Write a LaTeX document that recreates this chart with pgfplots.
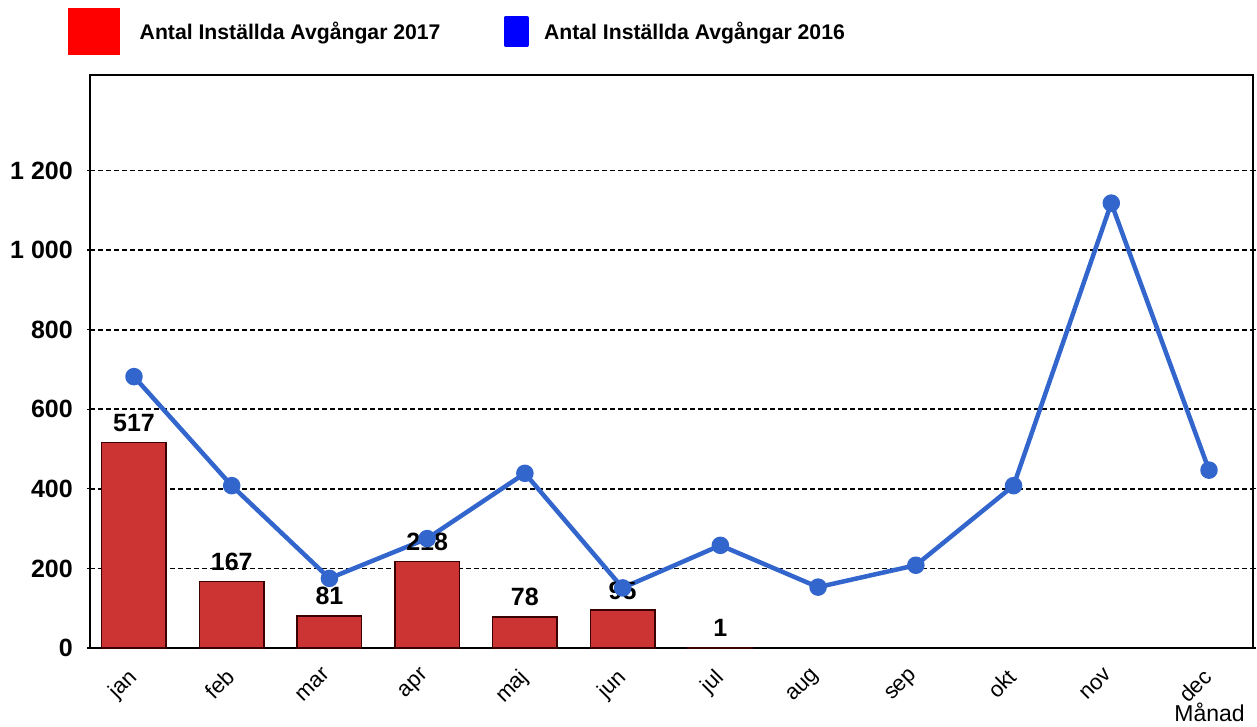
\documentclass[border=0pt]{standalone}
\usepackage{pgfplots}
\pgfplotsset{compat=1.18}
\usepackage{fontspec}
\setmainfont{Liberation Sans}
\definecolor{barred}{HTML}{CC3333}
\definecolor{barline}{HTML}{3A0000}
\definecolor{lineblue}{HTML}{3366CC}
\begin{document}
\begin{tikzpicture}
\begin{axis}[
  at={(90pt,78pt)}, anchor=south west,
  scale only axis, width=1163pt, height=573pt,
  xmin=-0.45, xmax=11.45, ymin=0, ymax=1440,
  /pgf/number format/assume math mode=true,
  xtick={0,...,11},
  xticklabels={jan,feb,mar,apr,maj,jun,jul,aug,sep,okt,nov,dec},
  x tick style={draw=none},
  xticklabel style={rotate=45, anchor=north east, font=\fontsize{22}{22}\selectfont, inner sep=0pt, yshift=-6.4pt, xshift=-16.4pt},
  ytick={0,200,...,1200},
  yticklabels={0,200,400,600,800,1 000,1 200},
  yticklabel style={font=\bfseries\fontsize{25}{25}\selectfont, inner sep=0pt, xshift=-14pt},
  tick align=outside, major tick length=3pt,
  y tick style={black, line width=1.3pt},
  ymajorgrids, major grid style={black, dash pattern=on 5pt off 3pt, line width=1.7pt},
  axis line style={black, line width=2.5pt},
  xlabel={Månad},
  xlabel style={at={(axis description cs:1,0)}, anchor=north east, yshift=-55pt, xshift=-8pt, font=\fontsize{23}{23}\selectfont, inner sep=0pt},
  legend style={at={(axis description cs:-0.0189,1.117)}, anchor=north west, draw=none, fill=none, inner sep=0pt,
    legend columns=2, font=\bfseries\fontsize{21.2}{21.2}\selectfont, nodes={inner sep=0pt},
    /tikz/every even column/.append style={column sep=63pt},
    /tikz/every odd column/.append style={column sep=15pt}},
  legend cell align=left,
]
\addplot[ybar, bar width=0.66, fill=barred, draw=barline, line width=1.5pt,
  nodes near coords,
  nodes near coords style={font=\bfseries\fontsize{25}{25}\selectfont, inner sep=0pt, anchor=south, yshift=10pt, black},
  legend image code/.code={\fill[red] (0pt,-22.5pt) rectangle (50pt,22.5pt); \path (55pt,0pt);}]
  coordinates {(0,517) (1,167) (2,81) (3,218) (4,78) (5,95) (6,1)};
\addlegendentry{Antal Inställda Avgångar 2017}
\addplot[lineblue, line width=4.5pt, line join=round, mark=*, mark size=6.5pt, mark options={fill=lineblue, draw=none},
  legend image code/.code={\fill[blue] (0pt,-13.5pt) rectangle (21pt,13.5pt);}]
  coordinates {(0,682) (1,408) (2,175) (3,275) (4,439) (5,151) (6,258) (7,153) (8,208) (9,408) (10,1118) (11,447)};
\addlegendentry{Antal Inställda Avgångar 2016}
\end{axis}
\pgfresetboundingbox
\path[use as bounding box] (0,0) rectangle (1257pt,726pt);
\end{tikzpicture}
\end{document}
